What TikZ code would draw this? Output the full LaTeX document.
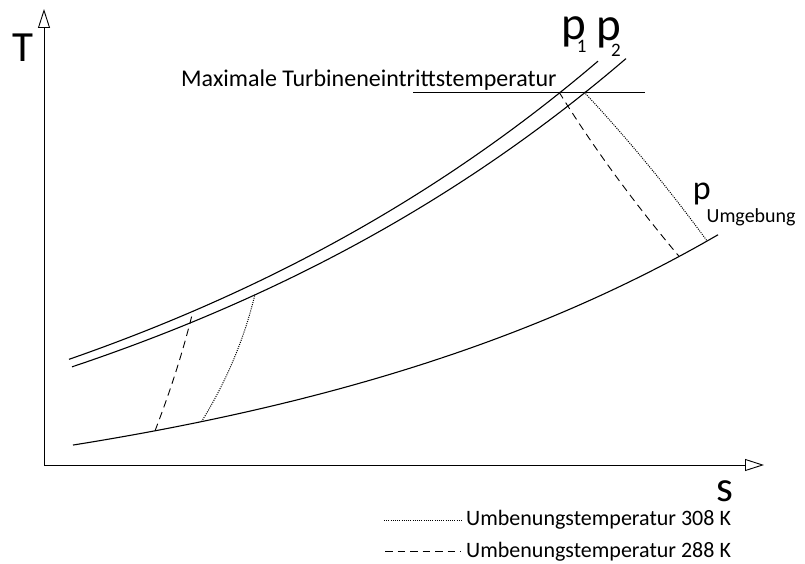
\documentclass[tikz,border=0pt]{standalone}
\usepackage{fontspec}
\setmainfont{Carlito}
\usepackage{xcolor}
\usepackage{tikz}
\usetikzlibrary{positioning,arrows.meta,calc}
\definecolor{ink}{HTML}{000000}
\newcommand{\subtxt}[3]{\kern#1\raisebox{#2}{\fontsize{19}{22}\selectfont #3}}
\tikzset{
  lbl/.style={font=\fontsize{22}{26}\selectfont, text=ink, inner sep=0pt},
  head/.style={font=\fontsize{24}{28}\selectfont, text=ink, inner sep=0pt},
  big/.style={font=\fontsize{43}{50}\selectfont, text=ink, inner sep=0pt},
}

\begin{document}
\begin{tikzpicture}[x=1pt, y=-1pt,
  axis/.style={ink, line width=0.9pt, -{Triangle[open, length=19pt, width=12pt, line width=0.9pt]}},
  isobar/.style={ink, line width=1.1pt},
  hot/.style={ink, line width=1pt, dash pattern=on 1pt off 1.2pt},
  cold/.style={ink, line width=0.9pt, dash pattern=on 7.5pt off 5pt}]
\useasboundingbox (0,0) rectangle (805,564);
\coordinate (origin) at (44,465);
\coordinate (ttop) at (44,9);
\coordinate (sright) at (764,465);
\draw[axis] (origin) -- (ttop);
\draw[axis] (origin) -- (sright);
\node[big, anchor=base west] (tlabel) at (12,62) {T};
\node[big, anchor=base west, text depth=0pt] (slabel) at (716,501) {s};
\draw[isobar] plot[domain=69:598, samples=80] (\x, {565-183*exp(0.0017*\x)});
\draw[isobar] plot[domain=72:626, samples=80] (\x, {565-183*exp(0.0017*(\x-25))});
\draw[isobar] plot[domain=73:718, samples=80] (\x, {525-69.1*exp(0.002*\x)});
\coordinate (tmaxl) at (413,92);
\coordinate (tmaxr) at (645,92);
\draw[ink, line width=0.9pt] (tmaxl) -- (tmaxr);
\node[head, anchor=base west] (tmaxtext) at (181,87) {Maximale Turbineneintrittstemperatur};
\coordinate (hot1) at (584,92);
\coordinate (hot2) at (707,240.9);
\coordinate (cold1) at (559,92);
\coordinate (cold2) at (679,256.3);
\coordinate (hot3) at (201.5,421.7);
\coordinate (hot4) at (255,294.3);
\coordinate (cold3) at (155,430.8);
\coordinate (cold4) at (193,311);
\draw[hot] (hot1) .. controls (628,139) and (669,189) .. (hot2);
\draw[cold] (cold1) .. controls (595,150) and (635,204) .. (cold2);
\draw[hot] (hot3) .. controls (226,382) and (244,340) .. (hot4);
\draw[cold] (cold3) .. controls (170,392) and (183,352) .. (cold4);
\node[big, anchor=base west, font=\fontsize{47}{54}\selectfont] (pone) at (561.5,40) {p\subtxt{-9.5pt}{-13pt}{1}};
\node[big, anchor=base west, font=\fontsize{47}{54}\selectfont] (ptwo) at (596,41) {p\subtxt{-9.7pt}{-16pt}{2}};
\node[big, anchor=base west, font=\fontsize{34}{40}\selectfont] (pamb) at (692.6,199) {p\kern-4pt\raisebox{-24pt}{\fontsize{20}{24}\selectfont Umgebung}};
\coordinate (leghot) at (384,520);
\coordinate (legcold) at (385,551);
\node[lbl, anchor=base west] (leghottext) at (466,525) {Umbenungstemperatur 308 K};
\node[lbl, anchor=base west] (legcoldtext) at (466,557) {Umbenungstemperatur 288 K};
\draw[hot] (leghot) -- ++(79,0);
\draw[cold] (legcold) -- ++(76,0);
\end{tikzpicture}
\end{document}
